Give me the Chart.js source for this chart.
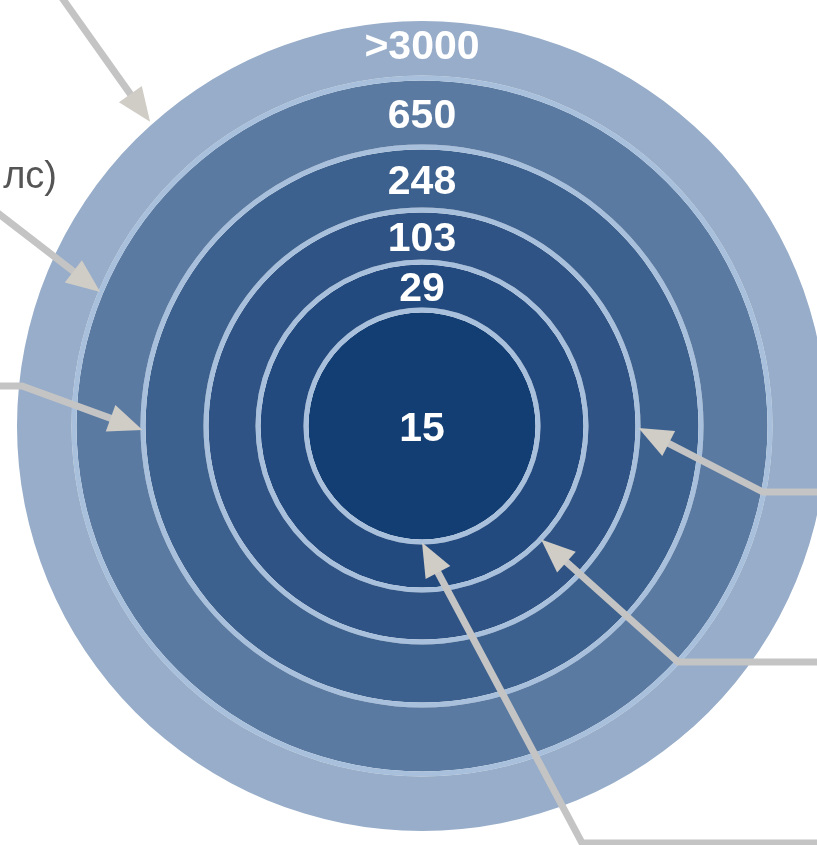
<!DOCTYPE html>
<html>
<head>
<meta charset="utf-8">
<script src="https://cdn.jsdelivr.net/npm/chart.js@4.4.1/dist/chart.umd.min.js"></script>
<style>
  html, body { margin: 0; padding: 0; background: #fff; overflow: hidden; width: 817px; height: 845px; }
  #wrap { position: absolute; left: 0; top: 0; width: 844px; height: 852px; }
</style>
</head>
<body>
<div id="wrap"><canvas id="krugi" width="844" height="852"></canvas></div>
<script>
// ============ ДАННЫЕ ============
const categories = ['>3000', '650', '248', '103', '29', '15'];
const counts = [3000, 650, 248, 103, 29, 15];
// каждое кольцо - полный круг
const ringShare = [1, 1, 1, 1, 1, 1];
const sideText = 'лс)';

// ============ СТИЛЬ ============
const ringColors = ['#97adc9', '#5a7aa2', '#3d618e', '#2e5384', '#234a7e', '#123e74'];
const ringWeights = [54.5, 64, 58, 47, 43, 113.5];
const sepWeight = 5;
const sepColor = '#a8c0dc';

// стрелки: кольцо, угол (град), точки хвоста
const arrows = [
    { ring: 0, angle: 228.2, tail: [[60, -5]] },
    { ring: 1, angle: 202.6, tail: [[-10, 207]] },
    { ring: 2, angle: 179.2, tail: [[-5, 386], [22, 386]] },
    { ring: 3, angle: 0.5,   tail: [[840, 492], [763, 492]] },
    { ring: 4, angle: 43.6,  tail: [[840, 662], [678, 662]] },
    { ring: 5, angle: 90,    tail: [[840, 843], [582, 843]] }
];

// ============ НАБОРЫ ДАННЫХ ============
const datasets = [];
categories.forEach(function(cat, i) {
    if (i > 0) {
        datasets.push({ label: 'sep' + i, data: [1], backgroundColor: sepColor, weight: sepWeight, borderWidth: 0 });
    }
    datasets.push({ label: cat, data: [ringShare[i]], backgroundColor: ringColors[i], weight: ringWeights[i], borderWidth: 0, ringIndex: i, value: counts[i] });
});

function ringArc(chart, ringIndex) {
    const di = chart.data.datasets.findIndex(function(ds) { return ds.ringIndex === ringIndex; });
    return chart.getDatasetMeta(di).data[0];
}

// подписи колец
const ringLabels = {
    id: 'ringLabels',
    afterDatasetsDraw(chart) {
        const ctx = chart.ctx;
        ctx.save();
        ctx.fillStyle = '#ffffff';
        ctx.font = 'bold 41px "Liberation Sans", Arial, sans-serif';
        ctx.textAlign = 'center';
        ctx.textBaseline = 'alphabetic';
        categories.forEach(function(cat, i) {
            const arc = ringArc(chart, i);
            let y = arc.y;
            if (arc.innerRadius > 0) y = arc.y - (arc.outerRadius + arc.innerRadius) / 2;
            if (i === 0) y -= 4;
            ctx.fillText(cat, arc.x, y + 15);
        });
        ctx.restore();
    }
};

// стрелки и обрезанный текст
const arrowPlugin = {
    id: 'arrowPlugin',
    afterDraw(chart) {
        const ctx = chart.ctx;
        ctx.save();
        arrows.forEach(function(a) {
            const arc = ringArc(chart, a.ring);
            const r = arc.outerRadius + 3;
            const rad = a.angle * Math.PI / 180;
            const tip = [arc.x + r * Math.cos(rad), arc.y + r * Math.sin(rad)];
            const last = a.tail[a.tail.length - 1];
            const dx = tip[0] - last[0], dy = tip[1] - last[1];
            const len = Math.sqrt(dx * dx + dy * dy);
            const ux = dx / len, uy = dy / len;
            const headLen = 34, headW = 14;
            const base = [tip[0] - ux * headLen, tip[1] - uy * headLen];

            ctx.strokeStyle = '#c4c4c4';
            ctx.lineWidth = 7;
            ctx.lineJoin = 'miter';
            ctx.beginPath();
            ctx.moveTo(a.tail[0][0], a.tail[0][1]);
            for (let k = 1; k < a.tail.length; k++) ctx.lineTo(a.tail[k][0], a.tail[k][1]);
            ctx.lineTo(base[0] + ux * 4, base[1] + uy * 4);
            ctx.stroke();

            ctx.fillStyle = '#d0ccc6';
            ctx.beginPath();
            ctx.moveTo(tip[0], tip[1]);
            ctx.lineTo(base[0] - uy * headW, base[1] + ux * headW);
            ctx.lineTo(base[0] + uy * headW, base[1] - ux * headW);
            ctx.closePath();
            ctx.fill();
        });

        ctx.fillStyle = '#555555';
        ctx.font = '38px "Liberation Sans", Arial, sans-serif';
        ctx.textAlign = 'right';
        ctx.textBaseline = 'alphabetic';
        ctx.fillText(sideText, 57, 188);
        ctx.restore();
    }
};

const chart = new Chart(document.getElementById('krugi'), {
    type: 'doughnut',
    data: {
        labels: ['ring'],
        datasets: datasets
    },
    options: {
        responsive: false,
        animation: false,
        events: [],
        cutout: 0,
        layout: { padding: { left: 17, right: 17, top: 21, bottom: 21 } },
        plugins: {
            legend: { display: false },
            tooltip: { enabled: false }
        }
    },
    plugins: [ringLabels, arrowPlugin]
});
</script>
</body>
</html>
